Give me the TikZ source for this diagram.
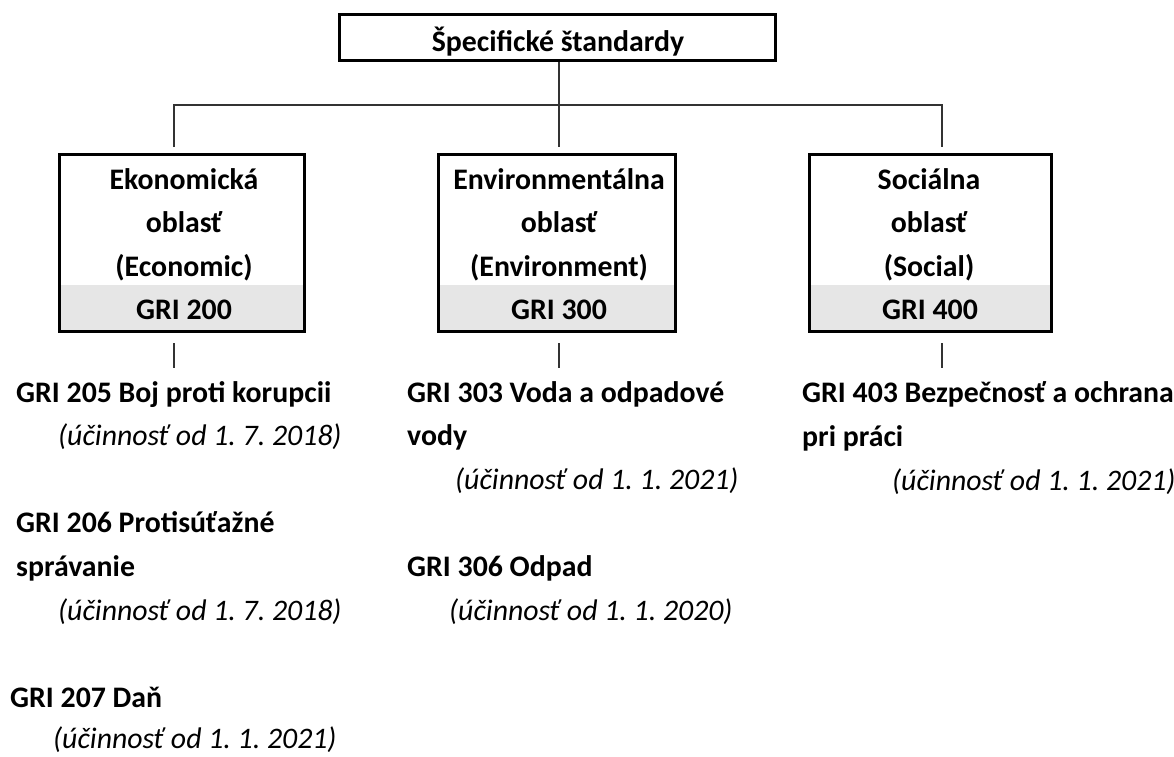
\documentclass[tikz,border=0pt]{standalone}
\usepackage{fontspec}
\setmainfont{Carlito}
\frenchspacing
\begin{document}
\begin{tikzpicture}[x=1pt,y=-1pt,
  box/.style={draw=black,line width=3.3pt,inner sep=0pt,fill=none},
  band/.style={fill=bandgray,draw=none,inner sep=0pt},
  bt/.style={font=\fontsize{29.8}{35}\selectfont\bfseries\frenchspacing,inner sep=0pt,text=black},
  it/.style={font=\fontsize{29.8}{35}\selectfont\itshape\frenchspacing,inner sep=0pt,text=black},
  conn/.style={draw=linegray,line width=1.2pt}]
\definecolor{bandgray}{HTML}{E6E6E6}
\definecolor{linegray}{HTML}{333333}
\useasboundingbox (0,0) rectangle (1174,756);

% title
\node[box,minimum width=435.8pt,minimum height=45.8pt] (title) at (557.5,37.5) {};
\node[bt,anchor=base] (titletext) at (558,51) {Špecifické štandardy};

% gray bands
\node[band,minimum width=241.6pt,minimum height=44.8pt] (ekoband) at (182,307.4) {};
\node[band,minimum width=233.6pt,minimum height=44.8pt] (envband) at (557,307.4) {};
\node[band,minimum width=238.6pt,minimum height=44.8pt] (socband) at (930.5,307.4) {};

% boxes
\node[box,minimum width=244.8pt,minimum height=176.8pt] (eko) at (182,243) {};
\node[box,minimum width=236.8pt,minimum height=176.8pt] (env) at (557,243) {};
\node[box,minimum width=241.8pt,minimum height=176.8pt] (soc) at (930.5,243) {};

% box texts
\node[bt,anchor=base] (eko1) at (184,189) {Ekonomická};
\node[bt,anchor=base] (eko2) at (184,232) {oblasť};
\node[bt,anchor=base] (eko3) at (184,276) {(Economic)};
\node[bt,anchor=base] (eko4) at (184,319) {GRI 200};

\node[bt,anchor=base] (env1) at (559,189) {Environmentálna};
\node[bt,anchor=base] (env2) at (559,232) {oblasť};
\node[bt,anchor=base] (env3) at (559,276) {(Environment)};
\node[bt,anchor=base] (env4) at (559,319) {GRI 300};

\node[bt,anchor=base] (soc1) at (929,189) {Sociálna};
\node[bt,anchor=base] (soc2) at (929,232) {oblasť};
\node[bt,anchor=base] (soc3) at (929,276) {(Social)};
\node[bt,anchor=base] (soc4) at (930,319) {GRI 400};

% connectors
\coordinate (ekoTop) at (174,147);
\coordinate (envTop) at (559,147);
\coordinate (socTop) at (942,147);
\draw[conn] (title.south -| envTop) -- (envTop);
\draw[conn] (ekoTop) -- ++(0,-42) -| (socTop);

\coordinate (ekoT1) at (174,343); \coordinate (ekoT2) at (174,368);
\coordinate (envT1) at (559,343); \coordinate (envT2) at (559,368);
\coordinate (socT1) at (942,343); \coordinate (socT2) at (942,368);
\draw[conn] (ekoT1) -- (ekoT2);
\draw[conn] (envT1) -- (envT2);
\draw[conn] (socT1) -- (socT2);

% left column
\node[bt,anchor=base west] (gri205) at (16,402) {GRI 205 Boj proti korupcii};
\node[it,anchor=base west] (u205) at (58,445) {(účinnosť od 1. 7. 2018)};
\node[bt,anchor=base west] (gri206a) at (16,532) {GRI 206 Protisúťažné};
\node[bt,anchor=base west] (gri206b) at (16,576) {správanie};
\node[it,anchor=base west] (u206) at (58,620) {(účinnosť od 1. 7. 2018)};
\node[bt,anchor=base west] (gri207) at (10,707) {GRI 207 Daň};
\node[it,anchor=base west] (u207) at (53,748) {(účinnosť od 1. 1. 2021)};

% middle column
\node[bt,anchor=base west] (gri303a) at (407,402) {GRI 303 Voda a odpadové};
\node[bt,anchor=base west] (gri303b) at (407,445) {vody};
\node[it,anchor=base west] (u303) at (455,489) {(účinnosť od 1. 1. 2021)};
\node[bt,anchor=base west] (gri306) at (407,576) {GRI 306 Odpad};
\node[it,anchor=base west] (u306) at (449,620) {(účinnosť od 1. 1. 2020)};

% right column
\node[bt,anchor=base west] (gri403a) at (802,402) {GRI 403 Bezpečnosť a ochrana};
\node[bt,anchor=base west] (gri403b) at (802,446) {pri práci};
\node[it,anchor=base west] (u403) at (892,490) {(účinnosť od 1. 1. 2021)};
\end{tikzpicture}
\end{document}
